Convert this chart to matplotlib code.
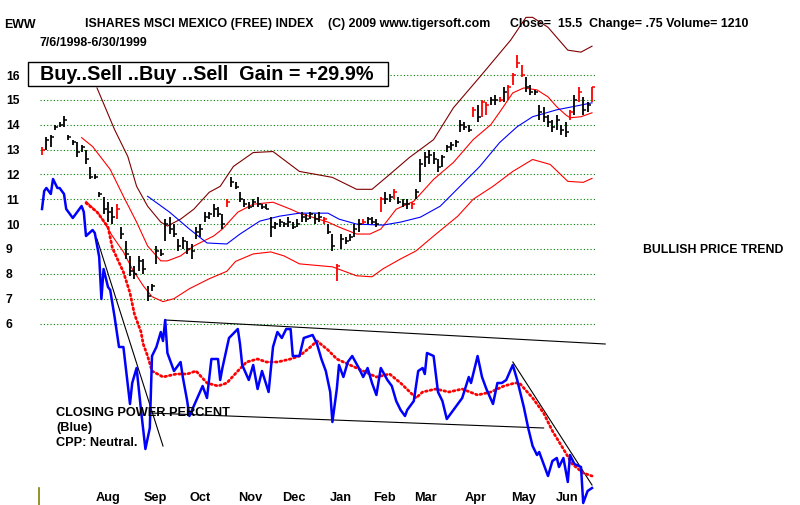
import matplotlib.pyplot as plt
from matplotlib.patches import Rectangle
import numpy as np

plt.rcParams['font.family'] = ['Liberation Sans', 'DejaVu Sans']
plt.rcParams['font.weight'] = 'bold'

# price bars, one every 2 trading days from 7/6/1998
highs = [13.1, 13.5, 13.6, 14.0, 14.1, 14.35, 13.6, 13.4, 13.3, 13.2,
         13.0, 12.3, 12.0, 11.3, 11.1, 10.9, 10.7, 10.8, 9.9, 9.3,
         8.7, 8.3, 8.7, 8.6, 7.5, 7.6, 9.1, 9.0, 10.2, 10.3,
         10.0, 9.4, 9.5, 9.3, 9.2, 9.9, 10.0, 10.5, 10.5, 10.8,
         10.7, 10.4, 11.0, 11.9, 11.7, 11.3, 11.0, 10.9, 11.0, 11.1,
         10.8, 10.8, 10.3, 10.1, 10.2, 10.1, 10.3, 10.1, 10.2, 10.5,
         10.4, 10.5, 10.4, 10.5, 10.3, 10.0, 9.6, 8.4, 9.6, 9.5,
         9.6, 10.0, 10.2, 10.2, 10.3, 10.3, 10.2, 11.1, 11.3, 11.2,
         11.4, 11.1, 11.0, 11.0, 10.9, 11.4, 12.6, 12.9, 13.0, 12.9,
         12.6, 12.8, 13.2, 13.3, 13.4, 14.2, 14.1, 14.0, 14.7, 14.8,
         15.0, 14.9, 15.1, 15.2, 15.1, 15.5, 15.6, 16.1, 16.8, 16.4,
         15.9, 15.6, 15.4, 14.8, 14.7, 14.4, 14.2, 14.4, 14.0, 14.1,
         14.6, 15.2, 15.5, 15.1, 14.9, 15.5]
lows = [12.8, 13.0, 13.1, 13.8, 13.9, 13.9, 13.4, 13.2, 12.7, 12.9,
        12.4, 11.8, 11.8, 11.1, 10.4, 10.1, 10.0, 10.2, 9.4, 8.6,
        7.9, 7.8, 8.1, 8.0, 6.9, 7.3, 8.4, 8.7, 9.3, 9.6,
        9.5, 8.9, 9.0, 8.8, 8.6, 9.4, 9.5, 10.1, 10.2, 10.3,
        10.3, 9.8, 10.7, 11.5, 11.4, 10.9, 10.7, 10.6, 10.7, 10.7,
        10.6, 10.6, 9.5, 9.8, 9.9, 9.9, 9.9, 9.8, 9.9, 10.1,
        10.1, 10.2, 10.0, 10.1, 10.0, 9.6, 8.9, 7.7, 9.0, 9.2,
        9.3, 9.5, 9.7, 10.0, 10.0, 10.0, 9.9, 10.5, 10.8, 10.9,
        11.0, 10.8, 10.7, 10.6, 10.6, 11.0, 11.7, 12.3, 12.4, 12.4,
        12.1, 12.3, 12.9, 13.0, 13.1, 13.7, 13.8, 13.7, 14.3, 14.1,
        14.3, 14.4, 14.8, 14.8, 14.9, 14.9, 15.0, 15.6, 16.3, 15.9,
        15.3, 15.2, 15.2, 14.2, 14.1, 13.9, 13.7, 13.8, 13.6, 13.5,
        14.2, 14.4, 14.9, 14.4, 14.5, 14.9]
closes = [13.0, 13.4, 13.5, 13.9, 14.0, 14.2, 13.5, 13.3, 12.9, 13.1,
          12.6, 11.9, 11.9, 11.2, 10.6, 10.5, 10.3, 10.6, 9.6, 8.8,
          8.1, 8.0, 8.5, 8.2, 7.1, 7.5, 8.9, 8.8, 10.0, 9.8,
          9.6, 9.1, 9.3, 9.0, 8.9, 9.7, 9.8, 10.3, 10.4, 10.6,
          10.4, 10.0, 10.9, 11.7, 11.5, 11.0, 10.8, 10.7, 10.9, 10.8,
          10.7, 10.6, 9.9, 10.0, 10.1, 10.0, 10.1, 9.9, 10.0, 10.3,
          10.2, 10.4, 10.2, 10.3, 10.2, 9.7, 9.1, 8.3, 9.4, 9.3,
          9.5, 9.8, 10.0, 10.1, 10.2, 10.1, 10.0, 11.0, 11.0, 11.1,
          11.3, 10.9, 10.8, 10.8, 10.8, 11.3, 12.4, 12.7, 12.8, 12.6,
          12.3, 12.7, 13.1, 13.2, 13.3, 14.0, 13.9, 13.8, 14.6, 14.3,
          14.9, 14.8, 15.0, 15.0, 15.0, 15.3, 15.5, 16.0, 16.5, 16.0,
          15.5, 15.3, 15.3, 14.5, 14.3, 14.1, 13.9, 14.2, 13.8, 13.7,
          14.5, 15.0, 15.3, 14.6, 14.8, 15.5]
red_bars = [0, 17, 42, 64, 67, 73, 77, 80, 84, 98, 100, 101, 104, 106,
            107, 108, 109, 120, 122, 125]

# bands (trading day index, price)
outer_days = [25, 33, 39, 43, 48, 54, 57, 63, 69, 76, 81, 87, 96, 105, 117,
              132, 143, 150, 157, 167, 178, 187, 199, 213, 220, 223, 230,
              239, 245, 250]
outer_band = [15.48, 13.8, 12.72, 11.52, 10.72, 10.08, 9.92, 10.2, 10.6,
              11.28, 11.52, 12.32, 12.88, 12.92, 12.12, 11.88, 11.4, 11.4,
              11.92, 12.68, 13.4, 14.68, 15.92, 17.4, 18.32, 18.32, 17.92,
              17.0, 16.92, 17.16]
upper_days = [18, 23, 31, 37, 43, 48, 54, 57, 63, 69, 78, 82, 89, 96, 105,
              113, 117, 130, 135, 143, 149, 154, 161, 169, 178, 187, 196,
              204, 208, 214, 219, 225, 230, 234, 238, 240, 245, 250]
upper_band = [13.48, 13.12, 12.2, 11.12, 10.08, 9.12, 8.52, 8.52, 8.72,
              9.12, 9.52, 9.8, 10.48, 10.8, 10.88, 10.6, 10.44, 10.08, 9.88,
              9.6, 9.6, 9.8, 10.6, 10.92, 11.8, 12.48, 13.4, 14.0, 14.5,
              15.28, 15.48, 15.4, 15.12, 14.72, 14.4, 14.28, 14.32, 14.48]
lower_days = [20, 26, 32, 37, 41, 46, 50, 55, 60, 67, 76, 84, 88, 96, 104,
              110, 117, 132, 143, 150, 155, 163, 170, 178, 189, 196, 205,
              214, 223, 231, 239, 246, 250]
lower_band = [10.92, 10.4, 9.52, 8.88, 8.2, 7.52, 7.08, 6.88, 7.0, 7.4,
              7.8, 8.1, 8.5, 8.8, 8.88, 8.72, 8.4, 8.28, 7.92, 7.88, 8.2,
              8.6, 8.92, 9.52, 10.32, 11.0, 11.52, 12.12, 12.6, 12.4, 11.72,
              11.68, 11.84]
ma_days = [48, 58, 67, 75, 84, 90, 99, 108, 117, 130, 135, 143, 155, 163,
           172, 181, 190, 199, 208, 216, 223, 234, 241, 250]
ma_line = [11.12, 10.48, 9.8, 9.24, 9.2, 9.6, 10.12, 10.32, 10.44, 10.44,
           10.2, 10.0, 9.96, 10.08, 10.28, 10.72, 11.52, 12.32, 13.28,
           13.92, 14.32, 14.6, 14.72, 14.88]

# closing power percent
cp_days = [0, 1, 2, 4, 5, 7, 8, 10, 11, 14, 16, 18, 19, 20, 23, 24, 26, 27,
           28, 30, 31, 33, 35, 37, 40, 41, 43, 45, 47, 49, 50, 52, 54, 55,
           56, 57, 60, 63, 64, 66, 67, 70, 73, 75, 77, 80, 81, 82, 85, 89,
           90, 91, 94, 96, 98, 100, 103, 105, 107, 109, 111, 113, 114, 117,
           119, 123, 125, 127, 129, 131, 132, 134, 135, 137, 139, 141, 144,
           146, 148, 150, 152, 154, 157, 159, 161, 163, 165, 166, 169, 171,
           173, 174, 175, 178, 180, 182, 184, 187, 189, 191, 194, 195, 198,
           200, 202, 205, 207, 209, 211, 214, 216, 219, 221, 223, 225, 226,
           229, 230, 232, 234, 235, 237, 239, 240, 242, 245, 246, 248, 250]
cp_vals = [97, 103, 104, 102, 107, 104, 104, 102, 97, 94, 96, 98, 96, 88,
           90, 89, 81, 67, 77, 71, 70, 61, 51, 51, 32, 39, 44, 30, 17, 24,
           48, 51, 56, 53, 60, 49, 43, 46, 41, 33, 28, 33, 38, 34, 47, 47,
           40, 44, 54, 57, 52, 45, 40, 45, 37, 43, 36, 51, 56, 54, 57, 57,
           48, 48, 54, 55, 52, 47, 43, 36, 26, 37, 45, 41, 46, 48, 44, 41,
           44, 39, 35, 44, 40, 38, 33, 30, 28, 30, 33, 43, 44, 42, 49, 48,
           36, 33, 27, 30, 32, 34, 41, 39, 48, 41, 37, 32, 39, 39, 40, 45,
           40, 31, 24, 18, 15, 16, 10, 8, 13, 14, 11, 14, 6, 15, 12, 11, -1,
           3, 4]
cpma_days = [20, 25, 30, 32, 37, 40, 42, 45, 46, 48, 50, 55, 61, 66, 70, 75,
             80, 84, 89, 93, 98, 102, 107, 113, 117, 122, 125, 130, 134, 140,
             146, 152, 158, 163, 170, 173, 179, 185, 191, 198, 204, 210, 215,
             217, 223, 228, 232, 237, 241, 246, 250]
cpma_vals = [99, 96, 91, 84, 76, 69, 62, 56, 52, 48, 43, 41, 42, 42, 43, 39,
             38, 39, 43, 46, 47, 46, 46, 47, 48, 51, 53, 50, 47, 45, 43, 41,
             42, 39, 34, 36, 37, 36, 37, 35, 36, 38, 39, 39, 34, 29, 23, 17,
             12, 9, 8]
trendlines = [((25, 55), (87, 18)), ((56, 256), (60, 52)),
              ((49, 228), (29, 24)), ((214, 250), (46, 5))]

months = ['Aug', 'Sep', 'Oct', 'Nov', 'Dec', 'Jan', 'Feb', 'Mar', 'Apr',
          'May', 'Jun']
month_mid = [30, 51.5, 72, 94.5, 114.5, 136, 155.5, 174.5, 197, 219, 238.5]

W, H = 800, 505
fig = plt.figure(figsize=(W / 100, H / 100), dpi=100)
ax = fig.add_axes([40 / W, 0, 557 / W, 1])
ax.set_xlim(-2 / 2.2, 555 / 2.2)
ax.set_ylim(16 - 430 / 24.85, 16 + 75 / 24.85)
for s in ax.spines.values():
    s.set_visible(False)
ax.set_xticks([])
ax.set_yticks(range(6, 17))
ax.tick_params(axis='y', length=0, pad=24.5, labelsize=8.7)
for lab in ax.get_yticklabels():
    lab.set_horizontalalignment('left')
ax.grid(axis='y', color='#008000', linestyle=(0, (1, 2)), linewidth=0.8)

days = np.arange(len(highs)) * 2
colors = ['#ff0000' if i in red_bars else 'black' for i in range(len(highs))]
ax.vlines(days, lows, highs, colors=colors, lw=1.3, zorder=3)
ax.hlines(closes, days, days + 1.4, colors=colors, lw=1.1, zorder=3)

ax.plot(outer_days, outer_band, color='#800000', lw=0.8)
ax.plot(upper_days, upper_band, color='#ff0000', lw=0.8)
ax.plot(lower_days, lower_band, color='#ff0000', lw=0.8)
ax.plot(ma_days, ma_line, color='#0000ff', lw=0.8)

ax2 = fig.add_axes([40 / W, 0, 557 / W, 1], sharex=ax)
ax2.set_ylim(-5 / 3, 500 / 3)
ax2.axis('off')
ax2.patch.set_visible(False)
for xs, ys in trendlines:
    ax2.plot(xs, ys, color='black', lw=0.8, clip_on=False)
ax2.plot(cpma_days, cpma_vals, color='#ff0000', lw=2,
         linestyle=(0, (0.6, 1.1)), dash_capstyle='round')
ax2.plot(cp_days, cp_vals, color='#0000ff', lw=1.8)

for m, d in zip(months, month_mid):
    ax.text(d, 1 - 498 / H, m, transform=ax.get_xaxis_transform(),
            ha='center', va='center', fontsize=9.2)


def px(x, y):
    return x / W, 1 - y / H


fig.text(*px(4, 24.5), 'EWW', fontsize=8.9, va='center')
fig.text(*px(85, 24.5), 'ISHARES MSCI MEXICO (FREE) INDEX', fontsize=8.9,
         va='center')
fig.text(*px(328, 24.5), '(C) 2009 www.tigersoft.com', fontsize=8.9,
         va='center')
fig.text(*px(510, 24.5), 'Close=  15.5  Change= .75 Volume= 1210',
         fontsize=8.9, va='center')
fig.text(*px(40, 42.5), '7/6/1998-6/30/1999', fontsize=8.9, va='center')
fig.add_artist(Rectangle(px(28, 86), 360 / W, 24 / H, transform=fig.transFigure,
                         facecolor='white', edgecolor='black', lw=1, zorder=5))
fig.text(*px(40, 74), 'Buy..Sell ..Buy ..Sell  Gain = +29.9%', fontsize=14.2,
         va='center', zorder=6)
fig.text(*px(643, 250), 'BULLISH PRICE TREND', fontsize=8.8, va='center')
fig.text(*px(56, 412.5), 'CLOSING POWER PERCENT', fontsize=9.2, va='center')
fig.text(*px(56, 428), '(Blue)', fontsize=9.2, va='center')
fig.text(*px(56, 443), 'CPP: Neutral.', fontsize=9.2, va='center')
fig.add_artist(plt.Line2D([39 / W, 39 / W], [0, 17 / H], color='#808000',
                          lw=1.2))

fig.savefig('out.png', dpi=100)
